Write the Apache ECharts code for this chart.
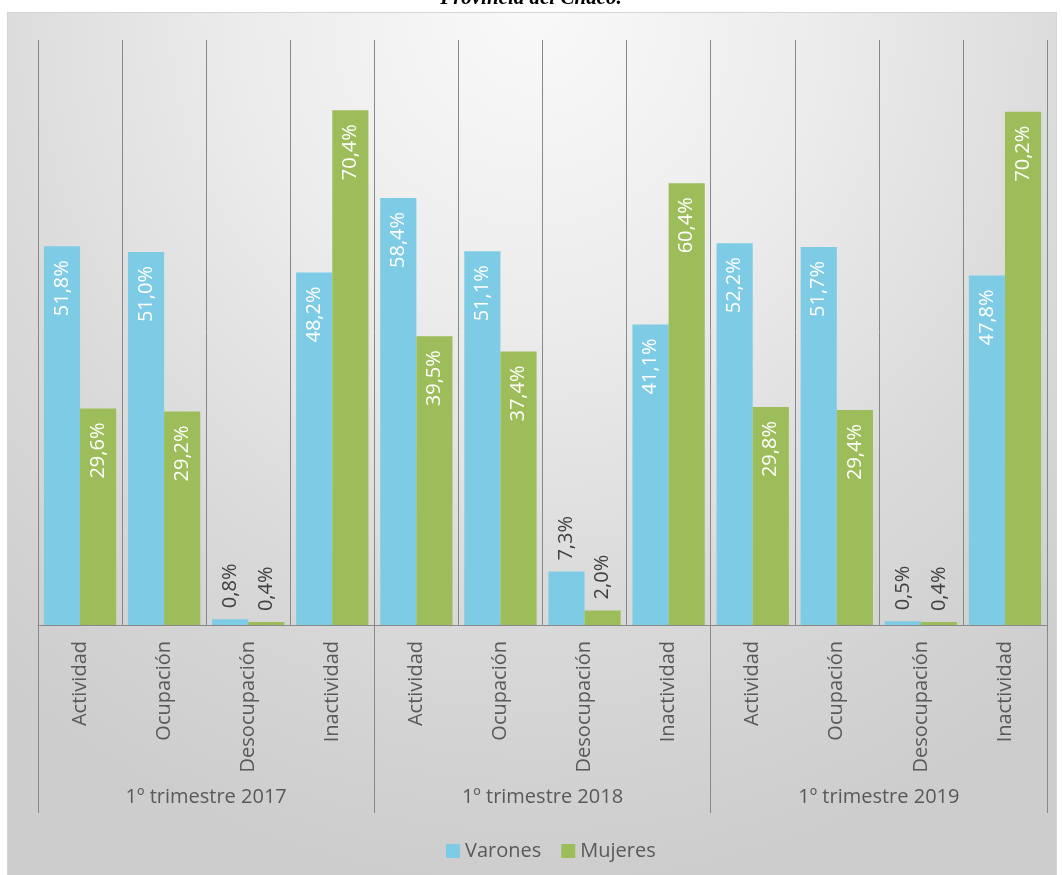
<!DOCTYPE html>
<html>
<head>
<meta charset="utf-8">
<script src="https://cdn.jsdelivr.net/npm/echarts@6/dist/echarts.min.js"></script>
<style>
  html, body { margin: 0; padding: 0; background: #ffffff; }
  #frame {
    position: absolute; left: 7px; top: 12px; width: 1050px; height: 870px;
    border: 1px solid #d4d4d4; box-sizing: border-box;
    background: radial-gradient(ellipse 78% 100% at 50% 0%, #f9f9f9 0%, #ececec 35%, #d9d9d9 70%, #cdcdcd 100%);
  }
  #chart { position: absolute; left: 0; top: 0; width: 1062px; height: 875px; }
</style>
</head>
<body>
<div id="frame"></div>
<div id="chart"></div>
<script>
// Tasas por sexo, primer trimestre de cada año
const categories = ['Actividad', 'Ocupación', 'Desocupación', 'Inactividad',
                    'Actividad', 'Ocupación', 'Desocupación', 'Inactividad',
                    'Actividad', 'Ocupación', 'Desocupación', 'Inactividad'];
const periods = ['1º trimestre 2017', '1º trimestre 2018', '1º trimestre 2019'];
const varones = [51.8, 51.0, 0.8, 48.2, 58.4, 51.1, 7.3, 41.1, 52.2, 51.7, 0.5, 47.8];
const mujeres = [29.6, 29.2, 0.4, 70.4, 39.5, 37.4, 2.0, 60.4, 29.8, 29.4, 0.4, 70.2];

const FONT = '"Open Sans", "Noto Sans", sans-serif';
const fmt = p => p.value.toFixed(1).replace('.', ',') + '%';

const insideLabel = {
  show: true, position: 'insideTop', rotate: 90, align: 'right', verticalAlign: 'middle',
  distance: 14, color: '#ffffff', fontSize: 20, fontFamily: FONT, formatter: fmt
};
const outsideLabel = {
  show: true, position: 'top', rotate: 90, align: 'left', verticalAlign: 'middle',
  distance: 11, color: '#404040', fontSize: 20, fontFamily: FONT, formatter: fmt
};
// small bars get their label above the bar
const toItems = arr => arr.map(v => ({ value: v, label: v < 10 ? outsideLabel : insideLabel }));

const chart = echarts.init(document.getElementById('chart'), null, { renderer: 'canvas' });
chart.setOption({
  backgroundColor: 'transparent',
  animation: false,
  title: {
    text: 'Provincia del Chaco.', left: 'center', top: -17,
    textStyle: { fontFamily: '"Liberation Serif", serif', fontStyle: 'italic', fontWeight: 'bold', fontSize: 21, color: '#000' }
  },
  grid: { left: 38, right: 15, top: 40, bottom: 250, containLabel: false },
  legend: {
    top: 836, left: 441, icon: 'rect', itemWidth: 14, itemHeight: 14, itemGap: 20,
    textStyle: { fontFamily: FONT, fontSize: 20, color: '#595959' },
    data: ['Varones', 'Mujeres']
  },
  xAxis: [
    {
      type: 'category', data: categories, position: 'bottom',
      axisLine: { show: true, lineStyle: { color: '#888888', width: 1 } },
      axisTick: { show: false },
      splitLine: { show: true, interval: 0, lineStyle: { color: '#888888', width: 1 } },
      axisLabel: { interval: 0, rotate: 90, margin: 16, fontFamily: FONT, fontSize: 20, color: '#595959' }
    },
    {
      type: 'category', data: periods, position: 'bottom',
      axisLine: { show: false },
      axisTick: { show: true, interval: 0, length: 188, lineStyle: { color: '#888888', width: 1 } },
      splitLine: { show: false },
      axisLabel: { interval: 0, margin: 162, fontFamily: FONT, fontSize: 20, color: '#595959' }
    }
  ],
  yAxis: { type: 'value', min: 0, max: 80, show: false, splitLine: { show: false } },
  series: [
    {
      name: 'Varones', type: 'bar', xAxisIndex: 0, data: toItems(varones),
      itemStyle: { color: '#7ecbe5' }, barGap: '0%', barCategoryGap: '14%'
    },
    {
      name: 'Mujeres', type: 'bar', xAxisIndex: 0, data: toItems(mujeres),
      itemStyle: { color: '#9dbd5a' }, barGap: '0%', barCategoryGap: '14%'
    }
  ]
});
</script>
</body>
</html>
